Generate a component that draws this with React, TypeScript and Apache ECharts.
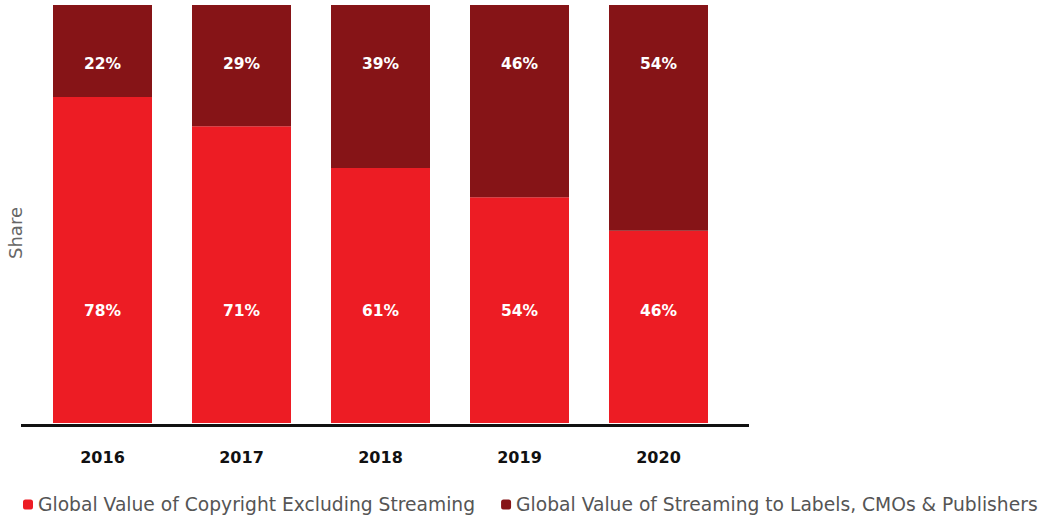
import React, { useEffect, useRef } from "react";
import * as echarts from "echarts";

const years = ["2016", "2017", "2018", "2019", "2020"];
const copyrightExclStreaming = [78, 71, 61, 54, 46];
const streamingToLabels = [22, 29, 39, 46, 54];
const seriesNames = [
  "Global Value of Copyright Excluding Streaming",
  "Global Value of Streaming to Labels, CMOs & Publishers",
];
const yAxisTitle = "Share";

export default function App() {
  const ref = useRef<HTMLDivElement>(null);
  useEffect(() => {
    document.body.style.margin = "0";
    const chart = echarts.init(ref.current!, null, { renderer: "svg" });
    const font = "DejaVu Sans";
    chart.setOption({
      animation: false,
      backgroundColor: "#ffffff",
      grid: { left: 33, right: 311, top: 5, bottom: 96 },
      legend: {
        left: 23,
        right: 0,
        top: 495,
        padding: 0,
        itemWidth: 10,
        itemHeight: 10,
        itemGap: 26,
        icon: "roundRect",
        textStyle: { color: "#555555", fontSize: 18.7, fontFamily: font },
        data: seriesNames,
      },
      xAxis: {
        type: "category",
        data: years,
        axisLine: { show: false },
        axisTick: { show: false },
        axisLabel: {
          color: "#111111",
          fontWeight: "bold",
          fontSize: 16,
          fontFamily: font,
          margin: 26,
        },
      },
      yAxis: {
        type: "value",
        min: 0,
        max: 100,
        axisLabel: { show: false },
        splitLine: { show: false },
        axisLine: { show: false },
        axisTick: { show: false },
      },
      graphic: [
        {
          type: "line",
          shape: { x1: 21, y1: 425.5, x2: 749, y2: 425.5 },
          style: { stroke: "#111111", lineWidth: 3 },
        },
        {
          type: "text",
          x: 15,
          y: 233,
          rotation: Math.PI / 2,
          style: {
            text: yAxisTitle,
            fill: "#666666",
            fontSize: 18,
            fontFamily: font,
            align: "center",
            verticalAlign: "middle",
          },
        },
      ],
      series: [
        {
          name: seriesNames[0],
          type: "bar",
          stack: "total",
          data: copyrightExclStreaming,
          barWidth: 99,
          itemStyle: { color: "#ED1C24" },
          label: {
            show: true,
            position: "insideBottom",
            distance: 104,
            formatter: "{c}%",
            color: "#ffffff",
            fontWeight: "bold",
            fontSize: 15.5,
            fontFamily: font,
          },
        },
        {
          name: seriesNames[1],
          type: "bar",
          stack: "total",
          data: streamingToLabels,
          barWidth: 99,
          itemStyle: { color: "#861417" },
          label: {
            show: true,
            position: "insideTop",
            distance: 51,
            formatter: "{c}%",
            color: "#ffffff",
            fontWeight: "bold",
            fontSize: 15.5,
            fontFamily: font,
          },
        },
      ],
    });
    return () => chart.dispose();
  }, []);
  return <div ref={ref} style={{ width: 1039, height: 519 }} />;
}
